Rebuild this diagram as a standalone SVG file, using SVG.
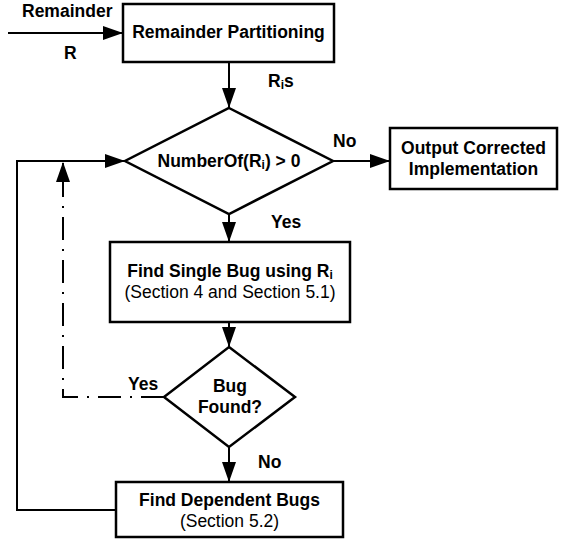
<svg xmlns="http://www.w3.org/2000/svg" width="561" height="541" viewBox="0 0 561 541">
<style>
.shape{fill:#fff;stroke:#000;stroke-width:2.5}
.conn{fill:none;stroke:#000;stroke-width:2}
.dd{fill:none;stroke:#000;stroke-width:2;stroke-dasharray:23 9 2 9}
text{font-family:"Liberation Sans",Arial,sans-serif;font-size:17.5px;fill:#000}
.b{font-weight:bold}
.sub{font-size:12px}
</style>
<defs>
<marker id="ah" viewBox="0 0 20 14" refX="20" refY="7" markerWidth="20" markerHeight="14" markerUnits="userSpaceOnUse" orient="auto">
<path d="M0,0 L20,7 L0,14 z" fill="#000"/>
</marker>
</defs>
<rect width="561" height="541" fill="#fff"/>
<g id="connectors">
<line class="conn" x1="8" y1="33" x2="123" y2="33" marker-end="url(#ah)"/>
<line class="conn" x1="229" y1="62" x2="229" y2="108" marker-end="url(#ah)"/>
<line class="conn" x1="333" y1="161" x2="390" y2="161" marker-end="url(#ah)"/>
<line class="conn" x1="229" y1="214" x2="229" y2="242" marker-end="url(#ah)"/>
<line class="conn" x1="229" y1="322" x2="229" y2="347" marker-end="url(#ah)"/>
<line class="conn" x1="229" y1="447" x2="229" y2="482" marker-end="url(#ah)"/>
<polyline class="conn" points="116,510 17,510 17,161 125,161" marker-end="url(#ah)"/>
<polyline class="dd" points="164,397 63,397 63,162" marker-end="url(#ah)"/>
<text class="b" x="22" y="17">Remainder</text>
<text class="b" x="64" y="59">R</text>
<text class="b" x="268" y="87">R<tspan class="sub" dy="2">i</tspan><tspan dy="-2">s</tspan></text>
<text class="b" x="333" y="147">No</text>
<text class="b" x="271" y="228">Yes</text>
<text class="b" x="128" y="390">Yes</text>
<text class="b" x="258" y="468">No</text>
</g>
<g id="remainder-partitioning">
<rect class="shape" x="123" y="4" width="211" height="58"/>
<text class="b" x="228.5" y="38" text-anchor="middle">Remainder Partitioning</text>
</g>
<g id="number-of-ri">
<polygon class="shape" points="229,108 333,161 229,214 125,161"/>
<text class="b" x="229" y="167" text-anchor="middle">NumberOf(R<tspan class="sub" dy="2">i</tspan><tspan dy="-2">) &gt; 0</tspan></text>
</g>
<g id="output-corrected">
<rect class="shape" x="390" y="128" width="167" height="61"/>
<text class="b" x="473.5" y="154" text-anchor="middle">Output Corrected</text>
<text class="b" x="473.5" y="175" text-anchor="middle">Implementation</text>
</g>
<g id="find-single-bug">
<rect class="shape" x="110" y="242" width="240" height="80"/>
<text class="b" x="230" y="277" text-anchor="middle">Find Single Bug using R<tspan class="sub" dy="2">i</tspan></text>
<text x="230" y="298" text-anchor="middle">(Section 4 and Section 5.1)</text>
</g>
<g id="bug-found">
<polygon class="shape" points="229,347 295,397 229,447 164,397"/>
<text class="b" x="230" y="392" text-anchor="middle">Bug</text>
<text class="b" x="230" y="413" text-anchor="middle">Found?</text>
</g>
<g id="find-dependent-bugs">
<rect class="shape" x="116" y="482" width="227" height="55"/>
<text class="b" x="229.5" y="506" text-anchor="middle">Find Dependent Bugs</text>
<text x="229.5" y="527" text-anchor="middle">(Section 5.2)</text>
</g>
</svg>
